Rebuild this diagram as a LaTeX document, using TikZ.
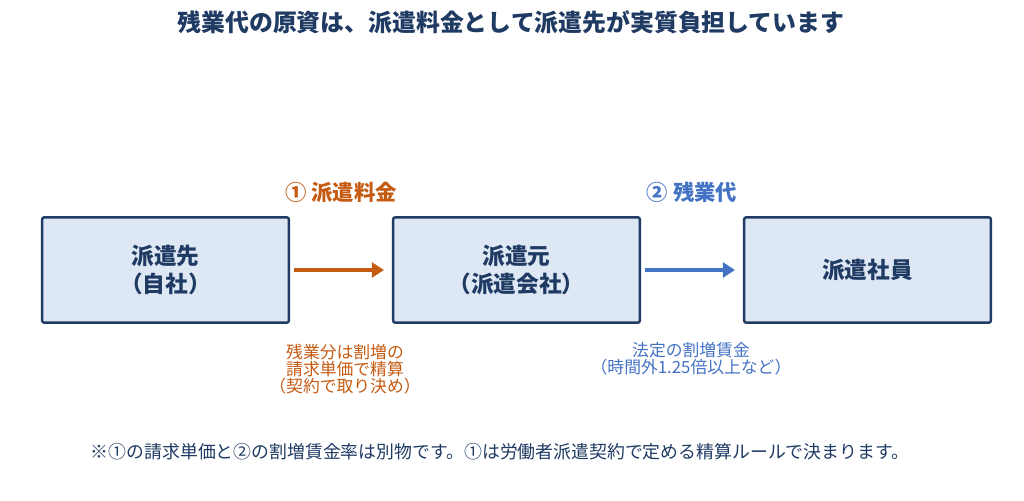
\documentclass[tikz,border=0pt]{standalone}
\usepackage{fontspec}
\setmainfont{Noto Sans CJK JP}
\usetikzlibrary{arrows.meta}
\definecolor{navy}{HTML}{1F3A63}
\definecolor{boxfill}{HTML}{DDE8F4}
\definecolor{feecol}{HTML}{C55A11}
\definecolor{paycol}{HTML}{4472C4}
\begin{document}
\begin{tikzpicture}[x=0.75pt,y=-0.75pt]
        \tikzstyle{party}=[rectangle,draw=navy,fill=boxfill,line width=1.8pt,rounded corners=1.5pt,minimum width=185pt,minimum height=79pt,align=center,font=\fontsize{17}{20.5}\selectfont\bfseries,text=navy]
        \tikzstyle{flow}=[line width=2.6pt,-{Triangle[length=9pt,width=11pt]}]
        \tikzstyle{note}=[align=center,font=\fontsize{12.6}{13}\selectfont]
        \useasboundingbox (0,0) rectangle (1024,500);
        \node[font=\fontsize{17.9}{22}\selectfont\bfseries,text=navy] (title) at (511,22) {残業代の原資は、派遣料金として派遣先が実質負担しています};
        \node[party] (saki) at (165.5,270) {派遣先\\（自社）};
        \node[party] (moto) at (516.5,270) {派遣元\\（派遣会社）};
        \node[party] (staff) at (867.5,270) {派遣社員};
        \draw[flow,draw=feecol] ([xshift=3pt]saki.east) -- ([xshift=-6pt]moto.west);
        \draw[flow,draw=paycol] ([xshift=3pt]moto.east) -- ([xshift=-6pt]staff.west);
        \node[font=\fontsize{16}{19}\selectfont\bfseries,text=feecol] (fee) at (341,192) {① 派遣料金};
        \node[font=\fontsize{16}{19}\selectfont\bfseries,text=paycol] (pay) at (692,192) {② 残業代};
        \node[note,text=feecol] (feenote) at (345,369) {残業分は割増の\\請求単価で精算\\（契約で取り決め）};
        \node[note,text=paycol] (paynote) at (691,359) {法定の割増賃金\\（時間外1.25倍以上など）};
        \node[note,font=\fontsize{13.4}{16}\selectfont,text=navy] (foot) at (500,452) {※①の請求単価と②の割増賃金率は別物です。①は労働者派遣契約で定める精算ルールで決まります。};
\end{tikzpicture}
\end{document}
